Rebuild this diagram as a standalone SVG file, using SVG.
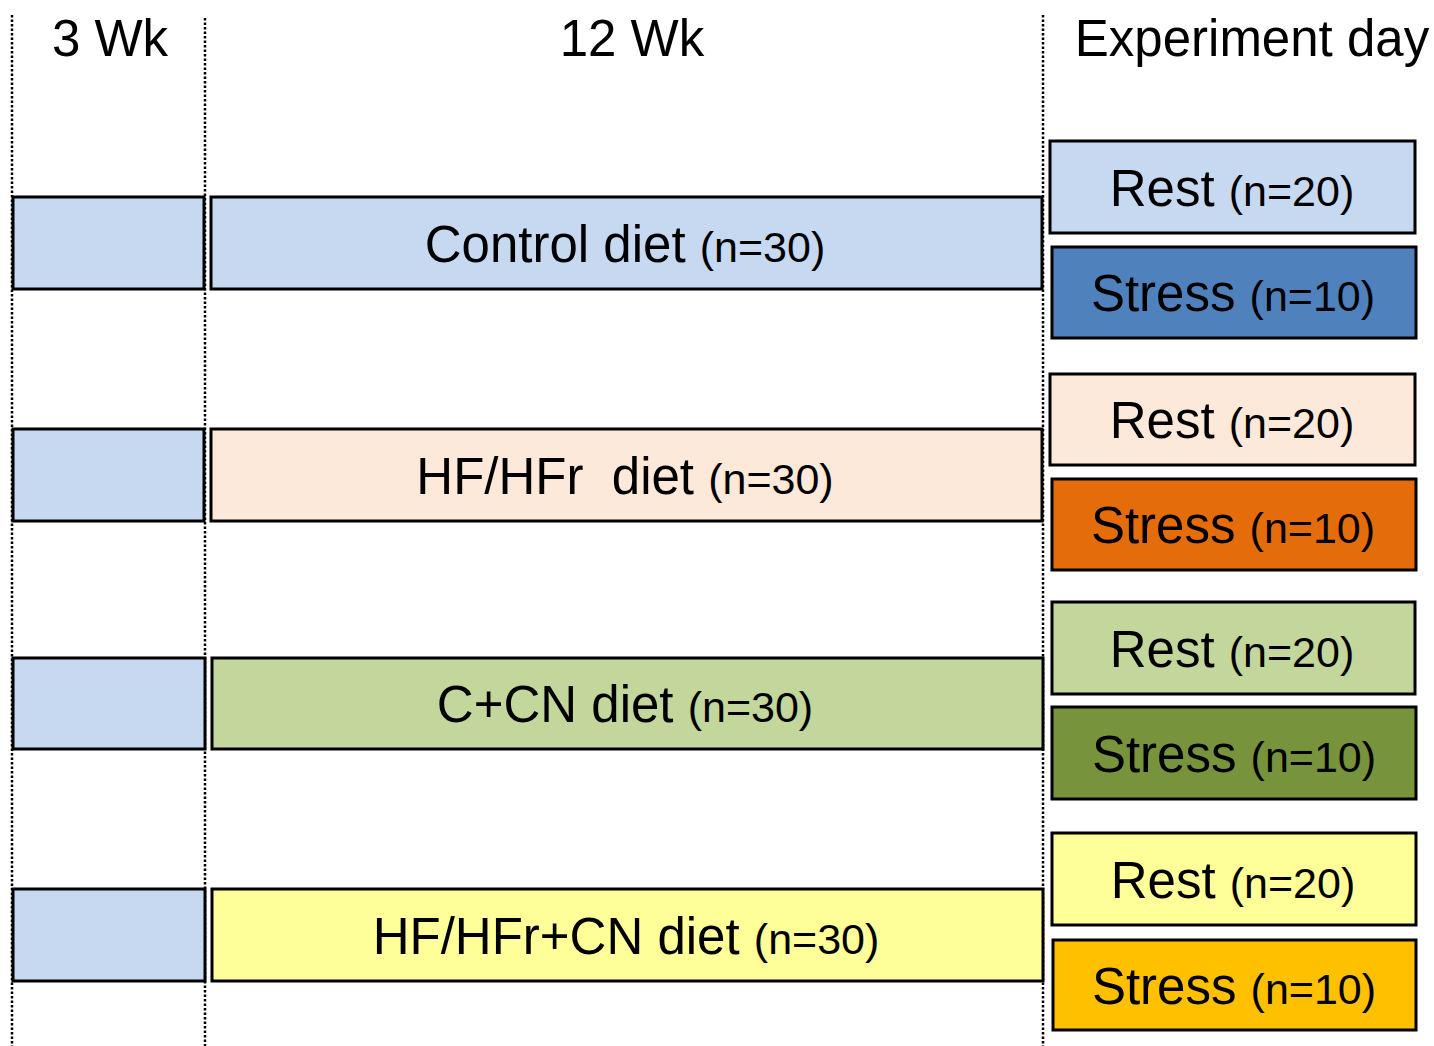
<svg xmlns="http://www.w3.org/2000/svg" width="1434" height="1046" viewBox="0 0 1434 1046">
<style>
.b{stroke:#000;stroke-width:3}
.t{font-family:"Liberation Sans",Arial,sans-serif;font-size:51px;fill:#000;text-anchor:middle;white-space:pre}
.n{font-family:"Liberation Sans Narrow","Arial Narrow","Liberation Sans",sans-serif;font-size:43px;font-stretch:condensed}
.h{font-family:"Liberation Sans",Arial,sans-serif;font-size:51px;fill:#000;text-anchor:middle}
.d{stroke:#000;stroke-width:2.5;stroke-dasharray:2.5 2;fill:none}
</style>
<rect width="1434" height="1046" fill="#fff"/>
<g id="guides">
<line class="d" x1="12" y1="15" x2="12" y2="1046"/>
<line class="d" x1="205" y1="18" x2="205" y2="1046"/>
<line class="d" x1="1043" y1="15" x2="1043" y2="1046"/>
</g>
<g id="headers">
<text class="h" x="110" y="56">3 Wk</text>
<text class="h" x="632" y="56">12 Wk</text>
<text class="h" x="1252" y="56">Experiment day</text>
</g>
<g id="row1">
<rect class="b" x="13" y="197" width="191" height="92" fill="#C6D9F1"/>
<rect class="b" x="211" y="197" width="831" height="92" fill="#C6D9F1"/>
<text class="t" x="625" y="262">Control diet <tspan class="n">(n=30)</tspan></text>
<rect class="b" x="1050" y="141" width="365" height="92" fill="#C6D9F1"/>
<text class="t" x="1232" y="206">Rest <tspan class="n">(n=20)</tspan></text>
<rect class="b" x="1052" y="247" width="364" height="91" fill="#4F81BD"/>
<text class="t" x="1233" y="311">Stress <tspan class="n">(n=10)</tspan></text>
</g>
<g id="row2">
<rect class="b" x="13" y="429" width="191" height="92" fill="#C6D9F1"/>
<rect class="b" x="211" y="429" width="831" height="92" fill="#FDE9D9"/>
<text class="t" x="625" y="494" xml:space="preserve">HF/HFr  diet <tspan class="n">(n=30)</tspan></text>
<rect class="b" x="1050" y="374" width="365" height="91" fill="#FDE9D9"/>
<text class="t" x="1232" y="438">Rest <tspan class="n">(n=20)</tspan></text>
<rect class="b" x="1052" y="479" width="364" height="91" fill="#E46C0A"/>
<text class="t" x="1233" y="543">Stress <tspan class="n">(n=10)</tspan></text>
</g>
<g id="row3">
<rect class="b" x="13" y="658" width="192" height="91" fill="#C6D9F1"/>
<rect class="b" x="212" y="658" width="831" height="91" fill="#C3D69B"/>
<text class="t" x="625" y="722">C+CN diet <tspan class="n">(n=30)</tspan></text>
<rect class="b" x="1052" y="602" width="363" height="92" fill="#C3D69B"/>
<text class="t" x="1232" y="667">Rest <tspan class="n">(n=20)</tspan></text>
<rect class="b" x="1052" y="707" width="364" height="92" fill="#77933C"/>
<text class="t" x="1234" y="772">Stress <tspan class="n">(n=10)</tspan></text>
</g>
<g id="row4">
<rect class="b" x="13" y="889" width="192" height="92" fill="#C6D9F1"/>
<rect class="b" x="212" y="889" width="831" height="92" fill="#FFFF99"/>
<text class="t" x="626" y="954">HF/HFr+CN diet <tspan class="n">(n=30)</tspan></text>
<rect class="b" x="1052" y="833" width="364" height="92" fill="#FFFF99"/>
<text class="t" x="1233" y="898">Rest <tspan class="n">(n=20)</tspan></text>
<rect class="b" x="1053" y="940" width="363" height="90" fill="#FFC000"/>
<text class="t" x="1234" y="1004">Stress <tspan class="n">(n=10)</tspan></text>
</g>
</svg>
